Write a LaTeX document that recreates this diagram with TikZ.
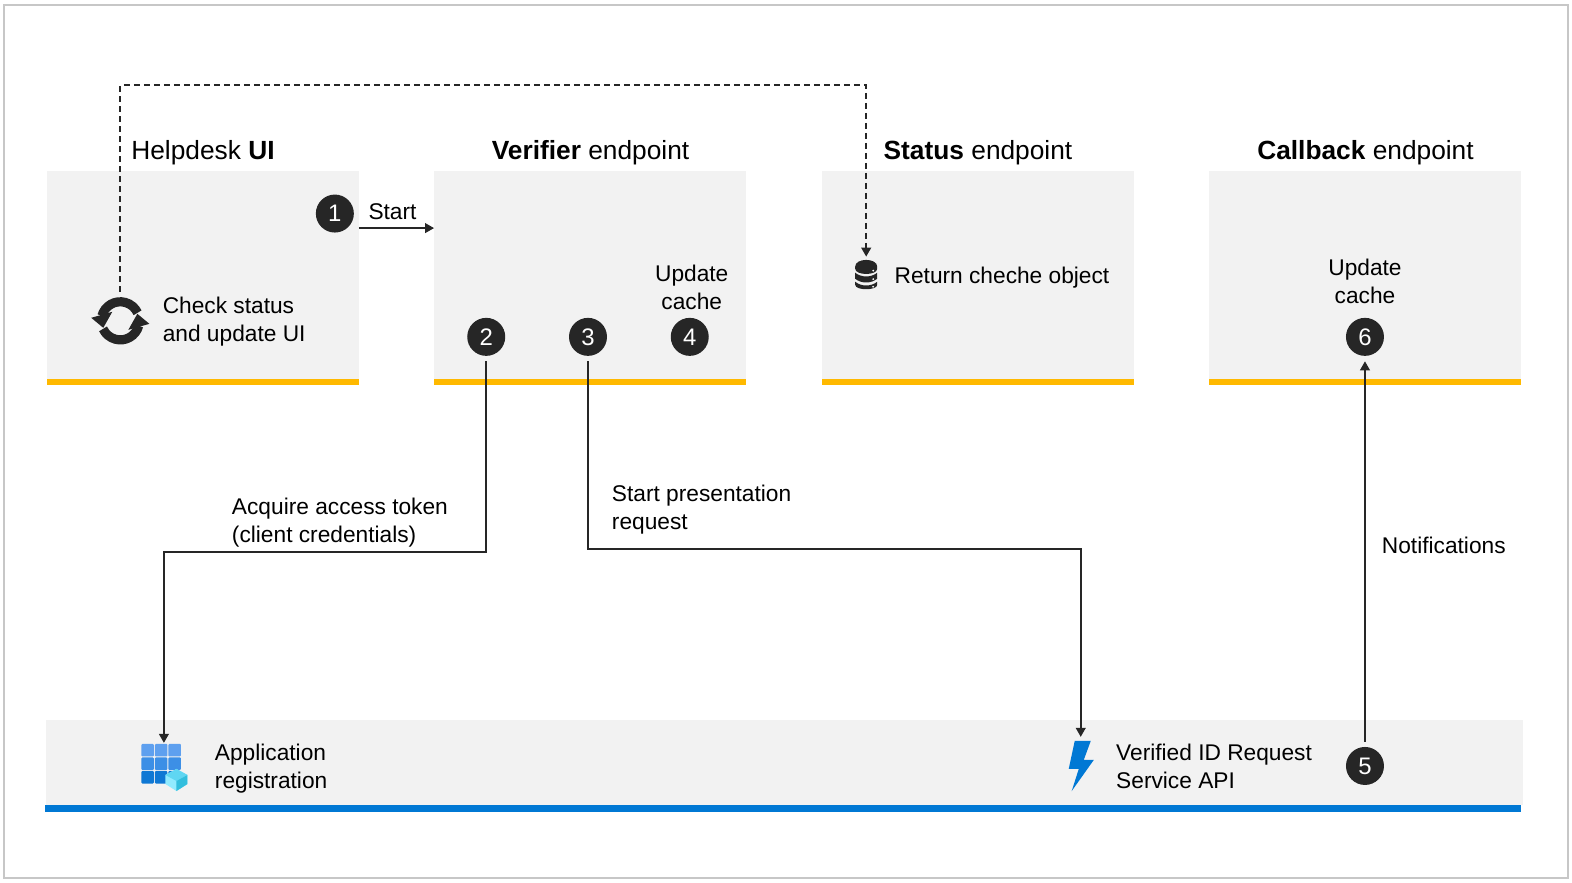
\documentclass[tikz,border=0pt]{standalone}
\usepackage{fontspec}
\setmainfont{Liberation Sans}
\usetikzlibrary{arrows.meta,calc}
\definecolor{panel}{HTML}{F2F2F2}
\definecolor{ink}{HTML}{262626}
\definecolor{amber}{HTML}{FFB900}
\definecolor{azure}{HTML}{0078D4}
\definecolor{gridtop}{HTML}{5EA0EF}
\definecolor{gridmid}{HTML}{3C8FE6}
\definecolor{gridlow}{HTML}{0F78D4}
\definecolor{cubeleft}{HTML}{91EBFF}
\definecolor{cubetop}{HTML}{5FD6F2}
\definecolor{cuberight}{HTML}{32BEDD}
\tikzset{
  x=0.50128bp,y=-0.50128bp,
  panelbox/.style={fill=panel,draw=none,minimum width=155.9bp,minimum height=104.3bp,inner sep=0pt,outer sep=0pt,anchor=north west},
  title/.style={font=\fontsize{13.2}{15}\selectfont,text=black,inner sep=0pt,anchor=base},
  body/.style={font=\fontsize{11.4}{14.09}\selectfont,text=black,inner sep=0pt,align=left},
  bodyc/.style={body,align=center},
  badge/.style={circle,fill=ink,text=white,minimum size=19bp,inner sep=0pt,font=\fontsize{12}{12}\selectfont},
  conn/.style={draw=ink,line width=1bp,-{Triangle[length=4.5bp,width=4.8bp]}},
  dashconn/.style={conn,dash pattern=on 3bp off 2bp},
}
\begin{document}
\begin{tikzpicture}
\useasboundingbox (0,0) rectangle (1568,880.7);
\fill[white] (0,0) rectangle (1568,880.7);
\draw[draw=black!22,line width=0.9bp] (4,5) rectangle (1564,876);
% panels
\node[panelbox] (helpdesk) at (47,171) {};
\node[panelbox] (verifier) at (433,171) {};
\node[panelbox] (status) at (820,171) {};
\node[panelbox] (callback) at (1206,171) {};
\foreach \x in {47,433,820,1206}{\fill[amber] (\x,378) rectangle (\x+311,384.5);}
\node[fill=panel,inner sep=0pt,minimum width=738.9bp,minimum height=42.6bp,anchor=north west] (backend) at (45,718) {};
\fill[azure] (45,803) rectangle (1517,809.5);
% titles
\node[title] (t1) at (202.5,159.5) {Helpdesk \textbf{UI}};
\node[title] (t2) at (589,159.5) {\textbf{Verifier} endpoint};
\node[title] (t3) at (975.5,159.5) {\textbf{Status} endpoint};
\node[title] (t4) at (1362,159.5) {\textbf{Callback} endpoint};
% badges
\node[badge] (b1) at (334,213) {1};
\node[badge] (b2) at (485,336) {2};
\node[badge] (b3) at (586.5,336) {3};
\node[badge] (b4) at (688,336) {4};
\node[badge] (b5) at (1361.5,764) {5};
\node[badge] (b6) at (1361.5,336) {6};
% texts
\node[body,anchor=west] (checktext) at (162,320.5) {Check status\\and update UI};
\node[body,anchor=base] (starttext) at (391.5,218.5) {Start};
\node[bodyc] (upd1) at (690,286.5) {Update\\cache};
\node[body,anchor=west] (rettext) at (892,276.5) {Return cheche object};
\node[bodyc] (upd2) at (1361.5,280.5) {Update\\cache};
\node[body,anchor=west] (acq) at (231,521.5) {Acquire access token\\(client credentials)};
\node[body,anchor=west] (pres) at (610,508.5) {Start presentation\\request};
\node[body,anchor=west] (notif) at (1378,544) {Notifications};
\node[body,anchor=west] (appreg) at (214,766.5) {Application\\registration};
\node[body,anchor=west] (vid) at (1113,764.5) {Verified ID Request\\Service API};
% icon anchors
\coordinate (syncicon) at (120,320);
\coordinate (dbicon) at (864,274);
\coordinate (appicon) at (161,762);
\coordinate (bolticon) at (1078,764);
% sync icon
\begin{scope}[shift={(syncicon)}]
  \draw[ink,line width=4.6bp] (195:19) arc[start angle=195,end angle=335,radius=19];
  \draw[ink,line width=4.6bp] (15:19) arc[start angle=15,end angle=155,radius=19];
  \fill[ink] (-29,-3) -- (-8,-9) -- (-17,7) -- cycle;
  \fill[ink] (29,3) -- (8,9) -- (17,-7) -- cycle;
\end{scope}
% database icon
\begin{scope}[shift={(dbicon)}]
  \fill[ink] (-11,-8) .. controls (-11,-17) and (11,-17) .. (11,-8) -- (11,-6) .. controls (11,1) and (-11,1) .. (-11,-6) -- cycle;
  \fill[ink] (-11,-2) .. controls (-5,3) and (5,3) .. (11,-2) -- (11,4) .. controls (5,9) and (-5,9) .. (-11,4) -- cycle;
  \fill[ink] (-11,7) .. controls (-5,12) and (5,12) .. (11,7) -- (11,10) .. controls (11,16) and (-11,16) .. (-11,10) -- cycle;
  \fill[white] (7,-4) circle (1); \fill[white] (7,4.5) circle (1); \fill[white] (7,12) circle (1);
\end{scope}
% app registration icon
\begin{scope}[shift={(appicon)}]
  \foreach \xx in {-20,-6.5,7}{
    \fill[gridtop,rounded corners=0.5bp] (\xx,-20) rectangle ++(12.5,12.5);
    \fill[gridmid,rounded corners=0.5bp] (\xx,-6.5) rectangle ++(12.5,12.5);
    \fill[gridlow,rounded corners=0.5bp] (\xx,7) rectangle ++(12.5,12.5);
  }
  \fill[cubeleft] (15,5) -- (26,11) -- (26,20) -- (15,27) -- (4,20) -- (4,11) -- cycle;
  \fill[cubetop] (15,5) -- (26,11) -- (15,17) -- (4,11) -- cycle;
  \fill[cuberight] (26,11) -- (26,20) -- (15,27) -- (15,17) -- cycle;
\end{scope}
% bolt icon
\begin{scope}[shift={(bolticon)}]
  \fill[azure] (-6,-25) -- (10,-25) -- (3,-6) -- (13,-6) -- (-9,25) -- (-2,3) -- (-12,3) -- cycle;
\end{scope}
% connector anchors
\coordinate (verifierW) at (433,227.5);
\coordinate (helpdeskE) at (358,227.5);
\coordinate (dashstart) at (120,291);
\coordinate (dbtop) at (864,256);
\coordinate (appin) at (163.5,741);
\coordinate (apiin) at (1078,735);
\draw[conn] (helpdeskE) -- (verifierW);
\draw[dashconn] (dashstart) |- (864,85) -- (dbtop);
\draw[conn,shorten <=2.5bp] (b2.south) |- (163.5,550.5) -- (appin);
\draw[conn,shorten <=2.5bp] (b3.south) |- (1078,547.5) -- (apiin);
\draw[conn,shorten <=2.5bp,shorten >=2.5bp] (b5.north) -- (b6.south);
\end{tikzpicture}
\end{document}
